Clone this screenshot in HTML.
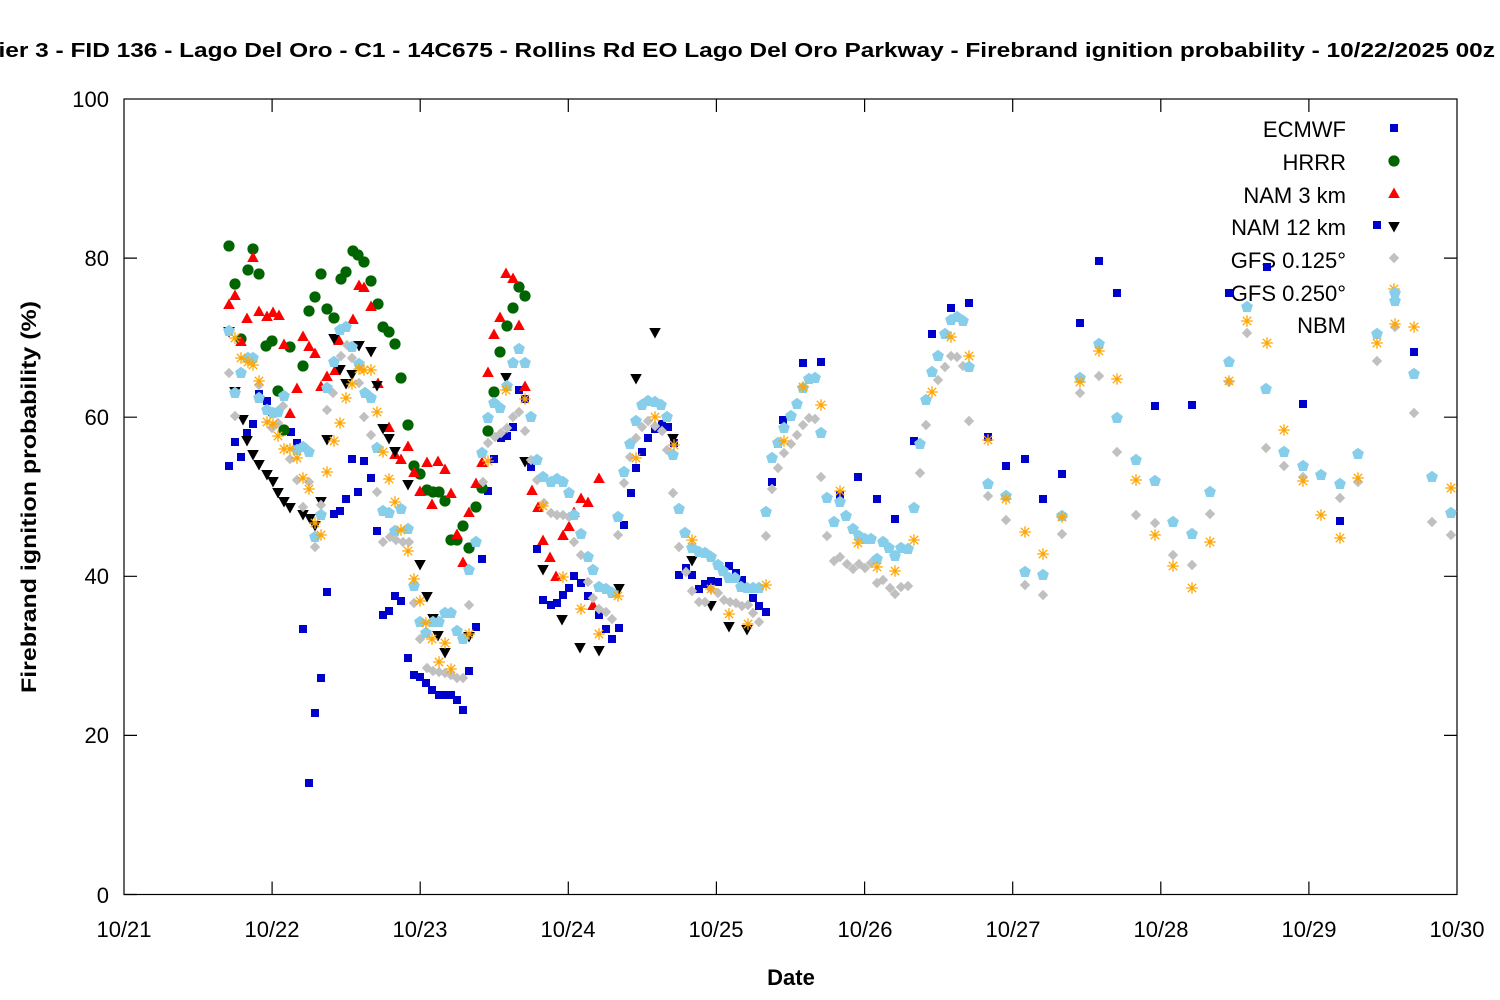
<!DOCTYPE html>
<html><head><meta charset="utf-8"><style>html,body{margin:0;padding:0;background:#fff}svg{display:block}text{font-family:"Liberation Sans",sans-serif;fill:#000}</style></head><body>
<svg width="1500" height="1000" viewBox="0 0 1500 1000" xmlns="http://www.w3.org/2000/svg">
<defs>
<rect id="sq" x="-4" y="-4" width="8" height="8" fill="#0000cd"/>
<circle id="ci" r="5.6" fill="#006400"/>
<path id="tu" d="M0,-6.5 L5.8,4 L-5.8,4 Z" fill="#ff0000"/>
<path id="td" d="M0,6.5 L5.8,-4 L-5.8,-4 Z" fill="#000"/>
<path id="dm" d="M0,-5.2 L5.2,0 L0,5.2 L-5.2,0 Z" fill="#c0c0c0"/>
<path id="st" d="M-5.8,0 H5.8 M0,-5.8 V5.8 M-4.2,-4.2 L4.2,4.2 M-4.2,4.2 L4.2,-4.2" stroke="#ffa500" stroke-width="1.3" fill="none"/>
<path id="pe" d="M0,-6.2 L5.9,-1.9 L3.65,5 L-3.65,5 L-5.9,-1.9 Z" fill="#87ceeb"/>
</defs>
<rect x="0" y="0" width="1500" height="1000" fill="#fff"/>
<text x="-16" y="57" font-size="20.5" font-weight="bold" textLength="1511" lengthAdjust="spacingAndGlyphs">Tier 3 - FID 136 - Lago Del Oro - C1 - 14C675 - Rollins Rd EO Lago Del Oro Parkway - Firebrand ignition probability - 10/22/2025 00z</text>
<g stroke="#000" stroke-width="1.2" fill="none">
<rect x="124" y="99" width="1333" height="795.5"/>
<path d="M124,894.5h13M124,735.4h13M124,576.3h13M124,417.2h13M124,258.1h13M1457,735.4h-13M1457,576.3h-13M1457,417.2h-13M1457,258.1h-13"/>
<path d="M272.1,894.5v-13M420.2,894.5v-13M568.3,894.5v-13M716.4,894.5v-13M864.6,894.5v-13M1012.7,894.5v-13M1160.8,894.5v-13M1308.9,894.5v-13M272.1,99v13M420.2,99v13M568.3,99v13M716.4,99v13M864.6,99v13M1012.7,99v13M1160.8,99v13M1308.9,99v13"/>
</g>
<g font-size="22" text-anchor="end">
<text x="109" y="107">100</text><text x="109" y="266">80</text><text x="109" y="425">60</text><text x="109" y="584">40</text><text x="109" y="743">20</text><text x="109" y="903">0</text>
</g>
<g font-size="22" text-anchor="middle">
<text x="124" y="937">10/21</text><text x="272" y="937">10/22</text><text x="420" y="937">10/23</text><text x="568" y="937">10/24</text><text x="716" y="937">10/25</text><text x="865" y="937">10/26</text><text x="1013" y="937">10/27</text><text x="1161" y="937">10/28</text><text x="1309" y="937">10/29</text><text x="1457" y="937">10/30</text>
</g>
<text x="791" y="985" font-size="22" font-weight="bold" text-anchor="middle">Date</text>
<text transform="translate(36,497) rotate(-90)" font-size="21" font-weight="bold" text-anchor="middle" textLength="392" lengthAdjust="spacingAndGlyphs">Firebrand ignition probability (%)</text>
<g font-size="22" text-anchor="end">
<text x="1346" y="137">ECMWF</text><text x="1346" y="170">HRRR</text><text x="1346" y="203">NAM 3 km</text><text x="1346" y="235">NAM 12 km</text><text x="1346" y="268">GFS 0.125°</text><text x="1346" y="301">GFS 0.250°</text><text x="1346" y="333">NBM</text>
</g>
<use href="#sq" x="1394" y="128"/><use href="#ci" x="1394" y="161"/><use href="#tu" x="1394" y="194"/><use href="#td" x="1394" y="226"/><use href="#dm" x="1394" y="258"/><use href="#st" x="1394" y="289"/>
<!-- ECMWF -->
<g>
<use href="#sq" x="229" y="466"/><use href="#sq" x="235" y="442"/><use href="#sq" x="241" y="457"/><use href="#sq" x="247" y="433"/><use href="#sq" x="253" y="424"/><use href="#sq" x="259" y="394"/><use href="#sq" x="267" y="401"/><use href="#sq" x="272" y="412"/><use href="#sq" x="291" y="432"/><use href="#sq" x="297" y="443"/><use href="#sq" x="303" y="629"/><use href="#sq" x="309" y="783"/><use href="#sq" x="315" y="713"/><use href="#sq" x="321" y="678"/><use href="#sq" x="327" y="592"/><use href="#sq" x="334" y="514"/><use href="#sq" x="340" y="511"/><use href="#sq" x="346" y="499"/><use href="#sq" x="352" y="459"/><use href="#sq" x="358" y="492"/><use href="#sq" x="364" y="461"/><use href="#sq" x="371" y="478"/><use href="#sq" x="377" y="531"/><use href="#sq" x="383" y="615"/><use href="#sq" x="389" y="611"/><use href="#sq" x="395" y="596"/><use href="#sq" x="401" y="601"/><use href="#sq" x="408" y="658"/><use href="#sq" x="414" y="675"/><use href="#sq" x="420" y="677"/><use href="#sq" x="426" y="683"/><use href="#sq" x="432" y="690"/><use href="#sq" x="439" y="695"/><use href="#sq" x="444" y="695"/><use href="#sq" x="451" y="695"/><use href="#sq" x="457" y="700"/><use href="#sq" x="463" y="710"/><use href="#sq" x="469" y="671"/><use href="#sq" x="476" y="627"/><use href="#sq" x="482" y="559"/><use href="#sq" x="488" y="491"/><use href="#sq" x="494" y="459"/><use href="#sq" x="501" y="438"/><use href="#sq" x="507" y="436"/><use href="#sq" x="513" y="427"/><use href="#sq" x="519" y="390"/><use href="#sq" x="525" y="399"/><use href="#sq" x="531" y="467"/><use href="#sq" x="537" y="549"/><use href="#sq" x="543" y="600"/><use href="#sq" x="551" y="605"/><use href="#sq" x="557" y="603"/><use href="#sq" x="563" y="595"/><use href="#sq" x="569" y="588"/><use href="#sq" x="574" y="576"/><use href="#sq" x="581" y="583"/><use href="#sq" x="588" y="596"/><use href="#sq" x="599" y="615"/><use href="#sq" x="606" y="629"/><use href="#sq" x="612" y="639"/><use href="#sq" x="619" y="628"/><use href="#sq" x="624" y="525"/><use href="#sq" x="631" y="493"/><use href="#sq" x="636" y="468"/><use href="#sq" x="642" y="452"/><use href="#sq" x="648" y="438"/><use href="#sq" x="655" y="429"/><use href="#sq" x="662" y="424"/><use href="#sq" x="668" y="427"/><use href="#sq" x="674" y="443"/><use href="#sq" x="679" y="575"/><use href="#sq" x="686" y="568"/><use href="#sq" x="692" y="575"/><use href="#sq" x="699" y="589"/><use href="#sq" x="705" y="584"/><use href="#sq" x="711" y="581"/><use href="#sq" x="718" y="582"/><use href="#sq" x="729" y="566"/><use href="#sq" x="736" y="573"/><use href="#sq" x="742" y="580"/><use href="#sq" x="748" y="589"/><use href="#sq" x="753" y="598"/><use href="#sq" x="759" y="606"/><use href="#sq" x="766" y="612"/><use href="#sq" x="772" y="482"/><use href="#sq" x="778" y="444"/><use href="#sq" x="783" y="420"/><use href="#sq" x="803" y="363"/><use href="#sq" x="821" y="362"/><use href="#sq" x="840" y="495"/><use href="#sq" x="858" y="477"/><use href="#sq" x="877" y="499"/><use href="#sq" x="895" y="519"/><use href="#sq" x="914" y="441"/><use href="#sq" x="932" y="334"/><use href="#sq" x="951" y="308"/><use href="#sq" x="969" y="303"/><use href="#sq" x="988" y="437"/><use href="#sq" x="1006" y="466"/><use href="#sq" x="1025" y="459"/><use href="#sq" x="1043" y="499"/><use href="#sq" x="1062" y="474"/><use href="#sq" x="1080" y="323"/><use href="#sq" x="1099" y="261"/><use href="#sq" x="1117" y="293"/><use href="#sq" x="1155" y="406"/><use href="#sq" x="1192" y="405"/><use href="#sq" x="1229" y="293"/><use href="#sq" x="1267" y="267"/><use href="#sq" x="1303" y="404"/><use href="#sq" x="1340" y="521"/><use href="#sq" x="1377" y="225"/><use href="#sq" x="1414" y="352"/>
</g>
<!-- HRRR -->
<g>
<use href="#ci" x="229" y="246"/><use href="#ci" x="235" y="284"/><use href="#ci" x="241" y="339"/><use href="#ci" x="248" y="270"/><use href="#ci" x="253" y="249"/><use href="#ci" x="259" y="274"/><use href="#ci" x="266" y="346"/><use href="#ci" x="272" y="341"/><use href="#ci" x="278" y="391"/><use href="#ci" x="284" y="430"/><use href="#ci" x="290" y="347"/><use href="#ci" x="303" y="366"/><use href="#ci" x="309" y="311"/><use href="#ci" x="315" y="297"/><use href="#ci" x="321" y="274"/><use href="#ci" x="327" y="309"/><use href="#ci" x="334" y="318"/><use href="#ci" x="341" y="279"/><use href="#ci" x="346" y="272"/><use href="#ci" x="353" y="251"/><use href="#ci" x="358" y="255"/><use href="#ci" x="364" y="262"/><use href="#ci" x="371" y="281"/><use href="#ci" x="378" y="304"/><use href="#ci" x="383" y="327"/><use href="#ci" x="389" y="332"/><use href="#ci" x="395" y="344"/><use href="#ci" x="401" y="378"/><use href="#ci" x="408" y="425"/><use href="#ci" x="414" y="466"/><use href="#ci" x="420" y="474"/><use href="#ci" x="427" y="490"/><use href="#ci" x="433" y="492"/><use href="#ci" x="439" y="492"/><use href="#ci" x="445" y="501"/><use href="#ci" x="451" y="540"/><use href="#ci" x="457" y="540"/><use href="#ci" x="463" y="526"/><use href="#ci" x="469" y="548"/><use href="#ci" x="476" y="507"/><use href="#ci" x="482" y="488"/><use href="#ci" x="488" y="431"/><use href="#ci" x="494" y="392"/><use href="#ci" x="500" y="352"/><use href="#ci" x="507" y="326"/><use href="#ci" x="513" y="308"/><use href="#ci" x="519" y="287"/><use href="#ci" x="525" y="296"/>
</g>
<!-- NAM 3 km -->
<g>
<use href="#tu" x="229" y="305"/><use href="#tu" x="235" y="296"/><use href="#tu" x="241" y="342"/><use href="#tu" x="247" y="319"/><use href="#tu" x="253" y="258"/><use href="#tu" x="259" y="312"/><use href="#tu" x="267" y="317"/><use href="#tu" x="273" y="313"/><use href="#tu" x="279" y="316"/><use href="#tu" x="284" y="345"/><use href="#tu" x="290" y="414"/><use href="#tu" x="297" y="389"/><use href="#tu" x="303" y="337"/><use href="#tu" x="309" y="347"/><use href="#tu" x="315" y="354"/><use href="#tu" x="321" y="387"/><use href="#tu" x="327" y="377"/><use href="#tu" x="335" y="371"/><use href="#tu" x="339" y="341"/><use href="#tu" x="353" y="320"/><use href="#tu" x="359" y="286"/><use href="#tu" x="364" y="288"/><use href="#tu" x="371" y="307"/><use href="#tu" x="378" y="384"/><use href="#tu" x="389" y="428"/><use href="#tu" x="395" y="455"/><use href="#tu" x="401" y="460"/><use href="#tu" x="408" y="447"/><use href="#tu" x="414" y="473"/><use href="#tu" x="420" y="492"/><use href="#tu" x="427" y="463"/><use href="#tu" x="432" y="505"/><use href="#tu" x="438" y="462"/><use href="#tu" x="445" y="470"/><use href="#tu" x="451" y="494"/><use href="#tu" x="457" y="535"/><use href="#tu" x="463" y="563"/><use href="#tu" x="469" y="513"/><use href="#tu" x="476" y="484"/><use href="#tu" x="482" y="463"/><use href="#tu" x="488" y="373"/><use href="#tu" x="494" y="335"/><use href="#tu" x="500" y="318"/><use href="#tu" x="506" y="274"/><use href="#tu" x="513" y="279"/><use href="#tu" x="519" y="326"/><use href="#tu" x="525" y="387"/><use href="#tu" x="532" y="491"/><use href="#tu" x="538" y="508"/><use href="#tu" x="543" y="541"/><use href="#tu" x="550" y="558"/><use href="#tu" x="556" y="577"/><use href="#tu" x="563" y="536"/><use href="#tu" x="569" y="527"/><use href="#tu" x="574" y="513"/><use href="#tu" x="581" y="499"/><use href="#tu" x="588" y="503"/><use href="#tu" x="593" y="606"/><use href="#tu" x="599" y="479"/>
</g>
<!-- NAM 12 km -->
<g>
<use href="#td" x="229" y="331"/><use href="#td" x="235" y="391"/><use href="#td" x="243" y="419"/><use href="#td" x="247" y="440"/><use href="#td" x="253" y="454"/><use href="#td" x="259" y="464"/><use href="#td" x="267" y="474"/><use href="#td" x="273" y="481"/><use href="#td" x="278" y="492"/><use href="#td" x="284" y="501"/><use href="#td" x="290" y="507"/><use href="#td" x="303" y="514"/><use href="#td" x="310" y="518"/><use href="#td" x="315" y="525"/><use href="#td" x="321" y="501"/><use href="#td" x="327" y="439"/><use href="#td" x="334" y="338"/><use href="#td" x="340" y="369"/><use href="#td" x="346" y="383"/><use href="#td" x="352" y="374"/><use href="#td" x="359" y="345"/><use href="#td" x="371" y="351"/><use href="#td" x="377" y="385"/><use href="#td" x="383" y="428"/><use href="#td" x="389" y="438"/><use href="#td" x="395" y="451"/><use href="#td" x="408" y="484"/><use href="#td" x="420" y="564"/><use href="#td" x="427" y="596"/><use href="#td" x="433" y="618"/><use href="#td" x="438" y="635"/><use href="#td" x="445" y="652"/><use href="#td" x="469" y="636"/><use href="#td" x="506" y="377"/><use href="#td" x="525" y="461"/><use href="#td" x="543" y="569"/><use href="#td" x="562" y="619"/><use href="#td" x="580" y="647"/><use href="#td" x="599" y="650"/><use href="#td" x="619" y="588"/><use href="#td" x="636" y="378"/><use href="#td" x="655" y="332"/><use href="#td" x="673" y="438"/><use href="#td" x="692" y="560"/><use href="#td" x="711" y="605"/><use href="#td" x="729" y="626"/><use href="#td" x="747" y="629"/>
</g>
<!-- GFS 0.125 -->
<g>
<use href="#dm" x="229" y="373"/><use href="#dm" x="235" y="416"/><use href="#dm" x="259" y="385"/><use href="#dm" x="272" y="428"/><use href="#dm" x="278" y="423"/><use href="#dm" x="283" y="406"/><use href="#dm" x="290" y="459"/><use href="#dm" x="297" y="480"/><use href="#dm" x="303" y="507"/><use href="#dm" x="309" y="482"/><use href="#dm" x="315" y="547"/><use href="#dm" x="321" y="505"/><use href="#dm" x="327" y="410"/><use href="#dm" x="333" y="393"/><use href="#dm" x="341" y="356"/><use href="#dm" x="347" y="345"/><use href="#dm" x="352" y="358"/><use href="#dm" x="359" y="383"/><use href="#dm" x="364" y="417"/><use href="#dm" x="371" y="435"/><use href="#dm" x="377" y="492"/><use href="#dm" x="383" y="542"/><use href="#dm" x="390" y="537"/><use href="#dm" x="396" y="540"/><use href="#dm" x="403" y="542"/><use href="#dm" x="409" y="542"/><use href="#dm" x="414" y="603"/><use href="#dm" x="420" y="639"/><use href="#dm" x="427" y="668"/><use href="#dm" x="433" y="671"/><use href="#dm" x="439" y="672"/><use href="#dm" x="445" y="673"/><use href="#dm" x="451" y="675"/><use href="#dm" x="457" y="678"/><use href="#dm" x="463" y="678"/><use href="#dm" x="469" y="605"/><use href="#dm" x="483" y="482"/><use href="#dm" x="488" y="443"/><use href="#dm" x="495" y="437"/><use href="#dm" x="501" y="433"/><use href="#dm" x="507" y="428"/><use href="#dm" x="513" y="417"/><use href="#dm" x="519" y="412"/><use href="#dm" x="525" y="431"/><use href="#dm" x="531" y="460"/><use href="#dm" x="537" y="480"/><use href="#dm" x="544" y="503"/><use href="#dm" x="551" y="513"/><use href="#dm" x="557" y="515"/><use href="#dm" x="563" y="515"/><use href="#dm" x="569" y="517"/><use href="#dm" x="574" y="542"/><use href="#dm" x="581" y="555"/><use href="#dm" x="588" y="582"/><use href="#dm" x="593" y="598"/><use href="#dm" x="599" y="609"/><use href="#dm" x="606" y="612"/><use href="#dm" x="612" y="619"/><use href="#dm" x="618" y="535"/><use href="#dm" x="624" y="483"/><use href="#dm" x="630" y="457"/><use href="#dm" x="636" y="438"/><use href="#dm" x="642" y="427"/><use href="#dm" x="648" y="421"/><use href="#dm" x="655" y="426"/><use href="#dm" x="662" y="431"/><use href="#dm" x="667" y="450"/><use href="#dm" x="673" y="493"/><use href="#dm" x="679" y="547"/><use href="#dm" x="686" y="572"/><use href="#dm" x="692" y="591"/><use href="#dm" x="699" y="602"/><use href="#dm" x="705" y="602"/><use href="#dm" x="711" y="589"/><use href="#dm" x="718" y="593"/><use href="#dm" x="724" y="600"/><use href="#dm" x="730" y="602"/><use href="#dm" x="736" y="603"/><use href="#dm" x="742" y="606"/><use href="#dm" x="748" y="605"/><use href="#dm" x="753" y="613"/><use href="#dm" x="759" y="622"/><use href="#dm" x="766" y="536"/><use href="#dm" x="772" y="489"/><use href="#dm" x="778" y="468"/><use href="#dm" x="784" y="453"/><use href="#dm" x="791" y="444"/><use href="#dm" x="797" y="435"/><use href="#dm" x="803" y="425"/><use href="#dm" x="809" y="418"/><use href="#dm" x="815" y="419"/><use href="#dm" x="821" y="477"/><use href="#dm" x="827" y="536"/><use href="#dm" x="834" y="561"/><use href="#dm" x="840" y="557"/><use href="#dm" x="847" y="564"/><use href="#dm" x="853" y="569"/><use href="#dm" x="859" y="564"/><use href="#dm" x="865" y="568"/><use href="#dm" x="871" y="563"/><use href="#dm" x="877" y="583"/><use href="#dm" x="883" y="580"/><use href="#dm" x="890" y="588"/><use href="#dm" x="895" y="594"/><use href="#dm" x="901" y="587"/><use href="#dm" x="908" y="586"/><use href="#dm" x="920" y="473"/><use href="#dm" x="926" y="425"/><use href="#dm" x="938" y="380"/><use href="#dm" x="945" y="367"/><use href="#dm" x="951" y="356"/><use href="#dm" x="957" y="357"/><use href="#dm" x="963" y="366"/><use href="#dm" x="969" y="421"/><use href="#dm" x="988" y="496"/><use href="#dm" x="1006" y="520"/><use href="#dm" x="1025" y="585"/><use href="#dm" x="1043" y="595"/><use href="#dm" x="1062" y="534"/><use href="#dm" x="1080" y="393"/><use href="#dm" x="1099" y="376"/><use href="#dm" x="1117" y="452"/><use href="#dm" x="1136" y="515"/><use href="#dm" x="1155" y="523"/><use href="#dm" x="1173" y="555"/><use href="#dm" x="1192" y="565"/><use href="#dm" x="1210" y="514"/><use href="#dm" x="1229" y="382"/><use href="#dm" x="1247" y="333"/><use href="#dm" x="1266" y="448"/><use href="#dm" x="1284" y="466"/><use href="#dm" x="1303" y="477"/><use href="#dm" x="1340" y="498"/><use href="#dm" x="1358" y="482"/><use href="#dm" x="1377" y="361"/><use href="#dm" x="1395" y="327"/><use href="#dm" x="1414" y="413"/><use href="#dm" x="1432" y="522"/><use href="#dm" x="1451" y="535"/>
</g>
<!-- NBM -->
<g>
<use href="#pe" x="229" y="331"/><use href="#pe" x="235" y="393"/><use href="#pe" x="241" y="373"/><use href="#pe" x="248" y="358"/><use href="#pe" x="253" y="358"/><use href="#pe" x="259" y="398"/><use href="#pe" x="267" y="410"/><use href="#pe" x="273" y="413"/><use href="#pe" x="278" y="412"/><use href="#pe" x="284" y="396"/><use href="#pe" x="297" y="450"/><use href="#pe" x="303" y="447"/><use href="#pe" x="309" y="452"/><use href="#pe" x="315" y="537"/><use href="#pe" x="321" y="515"/><use href="#pe" x="327" y="388"/><use href="#pe" x="334" y="362"/><use href="#pe" x="340" y="330"/><use href="#pe" x="346" y="327"/><use href="#pe" x="352" y="347"/><use href="#pe" x="359" y="364"/><use href="#pe" x="365" y="393"/><use href="#pe" x="371" y="398"/><use href="#pe" x="377" y="448"/><use href="#pe" x="383" y="511"/><use href="#pe" x="389" y="513"/><use href="#pe" x="395" y="531"/><use href="#pe" x="401" y="509"/><use href="#pe" x="408" y="529"/><use href="#pe" x="414" y="586"/><use href="#pe" x="420" y="622"/><use href="#pe" x="426" y="633"/><use href="#pe" x="433" y="622"/><use href="#pe" x="439" y="622"/><use href="#pe" x="445" y="613"/><use href="#pe" x="451" y="613"/><use href="#pe" x="457" y="631"/><use href="#pe" x="463" y="639"/><use href="#pe" x="469" y="570"/><use href="#pe" x="476" y="542"/><use href="#pe" x="482" y="453"/><use href="#pe" x="488" y="418"/><use href="#pe" x="494" y="403"/><use href="#pe" x="500" y="408"/><use href="#pe" x="507" y="386"/><use href="#pe" x="513" y="363"/><use href="#pe" x="519" y="349"/><use href="#pe" x="525" y="363"/><use href="#pe" x="531" y="417"/><use href="#pe" x="537" y="460"/><use href="#pe" x="543" y="477"/><use href="#pe" x="551" y="482"/><use href="#pe" x="557" y="479"/><use href="#pe" x="563" y="482"/><use href="#pe" x="569" y="493"/><use href="#pe" x="574" y="515"/><use href="#pe" x="581" y="534"/><use href="#pe" x="588" y="557"/><use href="#pe" x="593" y="570"/><use href="#pe" x="599" y="587"/><use href="#pe" x="606" y="589"/><use href="#pe" x="612" y="593"/><use href="#pe" x="618" y="517"/><use href="#pe" x="624" y="472"/><use href="#pe" x="630" y="444"/><use href="#pe" x="636" y="421"/><use href="#pe" x="642" y="405"/><use href="#pe" x="648" y="401"/><use href="#pe" x="655" y="402"/><use href="#pe" x="661" y="405"/><use href="#pe" x="667" y="417"/><use href="#pe" x="673" y="455"/><use href="#pe" x="679" y="509"/><use href="#pe" x="685" y="533"/><use href="#pe" x="692" y="548"/><use href="#pe" x="699" y="552"/><use href="#pe" x="705" y="553"/><use href="#pe" x="711" y="557"/><use href="#pe" x="718" y="565"/><use href="#pe" x="723" y="571"/><use href="#pe" x="729" y="578"/><use href="#pe" x="735" y="578"/><use href="#pe" x="741" y="587"/><use href="#pe" x="747" y="588"/><use href="#pe" x="753" y="588"/><use href="#pe" x="759" y="588"/><use href="#pe" x="766" y="512"/><use href="#pe" x="772" y="458"/><use href="#pe" x="778" y="443"/><use href="#pe" x="784" y="428"/><use href="#pe" x="791" y="416"/><use href="#pe" x="797" y="404"/><use href="#pe" x="803" y="388"/><use href="#pe" x="809" y="379"/><use href="#pe" x="815" y="378"/><use href="#pe" x="821" y="433"/><use href="#pe" x="827" y="498"/><use href="#pe" x="834" y="522"/><use href="#pe" x="840" y="502"/><use href="#pe" x="846" y="516"/><use href="#pe" x="853" y="529"/><use href="#pe" x="859" y="536"/><use href="#pe" x="865" y="539"/><use href="#pe" x="871" y="539"/><use href="#pe" x="877" y="559"/><use href="#pe" x="883" y="542"/><use href="#pe" x="889" y="548"/><use href="#pe" x="895" y="556"/><use href="#pe" x="901" y="548"/><use href="#pe" x="908" y="549"/><use href="#pe" x="914" y="508"/><use href="#pe" x="920" y="444"/><use href="#pe" x="926" y="400"/><use href="#pe" x="932" y="372"/><use href="#pe" x="938" y="356"/><use href="#pe" x="945" y="334"/><use href="#pe" x="951" y="320"/><use href="#pe" x="957" y="317"/><use href="#pe" x="963" y="321"/><use href="#pe" x="969" y="367"/><use href="#pe" x="988" y="484"/><use href="#pe" x="1006" y="496"/><use href="#pe" x="1025" y="572"/><use href="#pe" x="1043" y="575"/><use href="#pe" x="1062" y="516"/><use href="#pe" x="1080" y="378"/><use href="#pe" x="1099" y="344"/><use href="#pe" x="1117" y="418"/><use href="#pe" x="1136" y="460"/><use href="#pe" x="1155" y="481"/><use href="#pe" x="1173" y="522"/><use href="#pe" x="1192" y="534"/><use href="#pe" x="1210" y="492"/><use href="#pe" x="1229" y="362"/><use href="#pe" x="1247" y="307"/><use href="#pe" x="1266" y="389"/><use href="#pe" x="1284" y="452"/><use href="#pe" x="1303" y="466"/><use href="#pe" x="1321" y="475"/><use href="#pe" x="1340" y="484"/><use href="#pe" x="1358" y="454"/><use href="#pe" x="1377" y="334"/><use href="#pe" x="1395" y="301"/><use href="#pe" x="1395" y="293"/><use href="#pe" x="1414" y="374"/><use href="#pe" x="1432" y="477"/><use href="#pe" x="1451" y="513"/>
</g>
<!-- GFS 0.250 -->
<g>
<use href="#st" x="235" y="338"/><use href="#st" x="241" y="358"/><use href="#st" x="248" y="362"/><use href="#st" x="253" y="365"/><use href="#st" x="259" y="381"/><use href="#st" x="267" y="422"/><use href="#st" x="273" y="424"/><use href="#st" x="278" y="436"/><use href="#st" x="284" y="449"/><use href="#st" x="290" y="449"/><use href="#st" x="297" y="458"/><use href="#st" x="303" y="478"/><use href="#st" x="309" y="489"/><use href="#st" x="315" y="523"/><use href="#st" x="321" y="535"/><use href="#st" x="327" y="472"/><use href="#st" x="334" y="441"/><use href="#st" x="340" y="423"/><use href="#st" x="346" y="398"/><use href="#st" x="352" y="384"/><use href="#st" x="359" y="369"/><use href="#st" x="364" y="370"/><use href="#st" x="371" y="370"/><use href="#st" x="377" y="412"/><use href="#st" x="383" y="452"/><use href="#st" x="389" y="479"/><use href="#st" x="395" y="502"/><use href="#st" x="401" y="530"/><use href="#st" x="408" y="551"/><use href="#st" x="414" y="579"/><use href="#st" x="420" y="601"/><use href="#st" x="426" y="623"/><use href="#st" x="432" y="639"/><use href="#st" x="439" y="662"/><use href="#st" x="445" y="643"/><use href="#st" x="451" y="669"/><use href="#st" x="469" y="634"/><use href="#st" x="488" y="461"/><use href="#st" x="506" y="390"/><use href="#st" x="525" y="399"/><use href="#st" x="543" y="506"/><use href="#st" x="563" y="577"/><use href="#st" x="581" y="609"/><use href="#st" x="599" y="634"/><use href="#st" x="618" y="596"/><use href="#st" x="636" y="458"/><use href="#st" x="655" y="417"/><use href="#st" x="674" y="445"/><use href="#st" x="692" y="540"/><use href="#st" x="711" y="589"/><use href="#st" x="729" y="614"/><use href="#st" x="748" y="624"/><use href="#st" x="766" y="585"/><use href="#st" x="784" y="441"/><use href="#st" x="803" y="387"/><use href="#st" x="821" y="405"/><use href="#st" x="840" y="491"/><use href="#st" x="858" y="543"/><use href="#st" x="877" y="567"/><use href="#st" x="895" y="571"/><use href="#st" x="914" y="540"/><use href="#st" x="932" y="392"/><use href="#st" x="951" y="337"/><use href="#st" x="969" y="356"/><use href="#st" x="988" y="440"/><use href="#st" x="1006" y="499"/><use href="#st" x="1025" y="532"/><use href="#st" x="1043" y="554"/><use href="#st" x="1062" y="517"/><use href="#st" x="1080" y="382"/><use href="#st" x="1099" y="351"/><use href="#st" x="1117" y="379"/><use href="#st" x="1136" y="480"/><use href="#st" x="1155" y="535"/><use href="#st" x="1173" y="566"/><use href="#st" x="1192" y="588"/><use href="#st" x="1210" y="542"/><use href="#st" x="1229" y="381"/><use href="#st" x="1247" y="321"/><use href="#st" x="1267" y="343"/><use href="#st" x="1284" y="430"/><use href="#st" x="1303" y="481"/><use href="#st" x="1321" y="515"/><use href="#st" x="1340" y="538"/><use href="#st" x="1358" y="478"/><use href="#st" x="1377" y="343"/><use href="#st" x="1395" y="324"/><use href="#st" x="1414" y="327"/><use href="#st" x="1451" y="488"/>
</g>
</svg>
</body></html>
